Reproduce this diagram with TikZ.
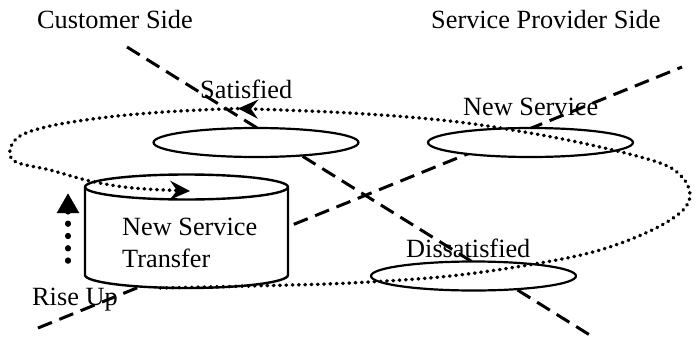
\documentclass[tikz,border=0pt]{standalone}
\usepackage{fontspec}
\setmainfont{Liberation Serif}
\usetikzlibrary{arrows.meta,shapes.geometric}

\tikzset{
  lbl/.style={inner sep=0pt, anchor=base west, font=\fontsize{26.3}{32}\selectfont},
  divider/.style={line width=3pt, dash pattern=on 15pt off 8pt},
  stateell/.style={ellipse, draw, line width=2.2pt, fill=white,
                   minimum width=205pt, minimum height=29pt, inner sep=0pt},
  cylbody/.style={draw, line width=2.4pt, fill=white},
  cycleline/.style={line width=3.5pt, line cap=round, dash pattern=on 0.6pt off 5.7pt},
  cyclehead/.style={-{Stealth[length=20pt, width=19pt, inset=7pt]}},
  riseline/.style={line width=5.5pt, line cap=round, dash pattern=on 0.8pt off 11.5pt,
                   -{Triangle[length=20pt, width=21pt]}}
}

\begin{document}
\begin{tikzpicture}[x=1pt, y=-1pt]
\useasboundingbox (0,0) rectangle (696,343);

% the two diagonal dividers
\coordinate (d1a) at (127,47);
\coordinate (d1b) at (593,337);
\coordinate (d2a) at (38,328);
\coordinate (d2b) at (682,67);
\draw[divider] (d1a) -- (d1b);
\draw[divider] (d2a) -- (d2b);

% state ellipses
\node[stateell] (sat) at (256,142.5) {};
\node[stateell] (newsvc) at (530.5,142.5) {};
\node[stateell] (dissat) at (473.5,276) {};

% the transfer store
\path[cylbody] (85,187) -- (85,275)
   arc[start angle=180, end angle=360, x radius=101.5pt, y radius=13pt]
   -- (288,187)
   arc[start angle=0, end angle=180, x radius=101.5pt, y radius=12.5pt]
   -- cycle;
\draw[line width=2.4pt] (85,187)
   arc[start angle=180, end angle=360, x radius=101.5pt, y radius=12.5pt];
\coordinate (cyltop) at (190,191);
\coordinate (cylbot) at (160,288);

% service cycle
\coordinate (turn) at (238,108.5);
\draw[cycleline, cyclehead] plot[smooth, tension=0.6] coordinates {
  (cylbot) (250,286) (350,283) (450,276) (540,263) (600,250) (650,231)
  (681,212) (690,195) (682,177) (660,163) (600,147) (530,133) (450,121)
  (350,113) (turn)};
\draw[cycleline, cyclehead] plot[smooth, tension=0.6] coordinates {
  (turn) (200,110) (150,113) (100,118) (50,126) (20,136) (10,150)
  (16,162) (50,170) (90,181) (133,188) (cyltop)};

% rise up
\coordinate (risebot) at (68,261);
\coordinate (risetop) at (68,193);
\draw[riseline] (risebot) -- (risetop);

% labels
\node[lbl] (cust) at (37,28) {Customer Side};
\node[lbl] (prov) at (431,28) {Service Provider Side};
\node[lbl] (satl) at (200,98) {Satisfied};
\node[lbl] (nsl) at (463,115) {New Service};
\node[lbl] (dsl) at (406,257) {Dissatisfied};
\node[lbl] (cyl1) at (122,235) {New Service};
\node[lbl] (cyl2) at (122,267) {Transfer};
\node[lbl] (rise) at (32,305) {Rise Up};
\end{tikzpicture}
\end{document}
